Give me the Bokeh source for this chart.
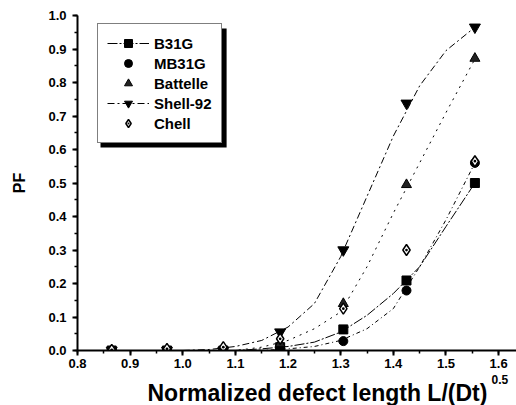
from bokeh.plotting import figure
from bokeh.models import (Legend, LegendItem, Title, BoxAnnotation, SingleIntervalTicker,
                          NumeralTickFormatter, Range1d)
from bokeh.embed import file_html
from bokeh.resources import INLINE

# ---- data ----
x_pts = [0.865, 0.97, 1.077, 1.185, 1.305, 1.425, 1.555]
b31g = [0.0, 0.0, 0.0, 0.01, 0.063, 0.209, 0.50]
mb31g = [0.0, 0.0, 0.0, 0.005, 0.028, 0.179, 0.56]
battelle = [0.0, 0.0, 0.0, 0.02, 0.14, 0.495, 0.872]
shell92 = [0.0, 0.0, 0.0, 0.055, 0.30, 0.738, 0.965]
chell = [0.002, 0.005, 0.01, 0.035, 0.125, 0.30, 0.565]

# fitted curves
x_fit = [1.0, 1.05, 1.1, 1.15, 1.2, 1.25, 1.3, 1.35, 1.4, 1.45, 1.5, 1.555]
shell_fit = [0.0, 0.003, 0.012, 0.03, 0.07, 0.14, 0.28, 0.46, 0.64, 0.79, 0.895, 0.965]
battelle_fit = [0.0, 0.0, 0.0, 0.01, 0.03, 0.065, 0.115, 0.25, 0.41, 0.56, 0.71, 0.87]
b31g_fit = [0.0, 0.0, 0.0, 0.005, 0.012, 0.025, 0.055, 0.105, 0.17, 0.25, 0.37, 0.50]
mb31g_fit = [0.0, 0.0, 0.0, 0.0, 0.005, 0.012, 0.03, 0.065, 0.125, 0.25, 0.39, 0.56]

x_ticks_interval = 0.1
y_ticks_interval = 0.1

FONT = "Liberation Sans"

p = figure(width=516, height=405, output_backend="svg", toolbar_location=None,
           x_range=Range1d(0.8, 1.634), y_range=Range1d(0.0, 1.0),
           min_border_left=77, min_border_right=0, min_border_top=15, min_border_bottom=55)
p.outline_line_color = None
p.xgrid.visible = False
p.ygrid.visible = False
p.background_fill_color = "white"

for ax, iv in ((p.xaxis[0], x_ticks_interval), (p.yaxis[0], y_ticks_interval)):
    ax.ticker = SingleIntervalTicker(interval=iv, num_minor_ticks=2)
    ax.formatter = NumeralTickFormatter(format="0.0")
    ax.axis_line_width = 2
    ax.major_tick_line_width = 2
    ax.minor_tick_line_width = 1.5
    ax.major_tick_out = 5
    ax.major_tick_in = 0
    ax.minor_tick_out = 3
    ax.minor_tick_in = 0
    ax.major_label_text_font = FONT
    ax.major_label_text_font_style = "bold"
    ax.major_label_text_font_size = "13px"
    ax.major_label_text_color = "black"
    ax.axis_line_color = "black"
    ax.major_tick_line_color = "black"
    ax.minor_tick_line_color = "black"

p.xaxis.major_label_standoff = 3
p.yaxis.major_label_standoff = 6
p.yaxis.axis_label = "PF"
p.yaxis.axis_label_text_font = FONT
p.yaxis.axis_label_text_font_style = "bold"
p.yaxis.axis_label_text_font_size = "16px"
p.yaxis.axis_label_text_color = "black"
p.yaxis.axis_label_standoff = 17

# curves
l_shell = p.line(x_fit, shell_fit, line_color="black", line_width=1, line_dash="7 3 2 3")
l_batt = p.line(x_fit, battelle_fit, line_color="black", line_width=1, line_dash="2 5")
l_b31g = p.line(x_fit, b31g_fit, line_color="black", line_width=1, line_dash="10 2 2 2")
l_mb31g = p.line(x_fit, mb31g_fit, line_color="black", line_width=1, line_dash="4 3 1 3")

# markers
s_b31g = p.scatter(x_pts, b31g, marker="square", size=9, fill_color="black", line_color="black")
s_mb31g = p.scatter(x_pts, mb31g, marker="circle", size=9, fill_color="black", line_color="black")
s_batt = p.scatter(x_pts, battelle, marker="triangle", size=10, fill_color="#222222", line_color="black")
s_shell = p.scatter(x_pts, shell92, marker="inverted_triangle", size=11, fill_color="black", line_color="black")
s_chell = p.scatter(x_pts, chell, marker="diamond_dot", size=11, fill_color="white", line_color="black", line_width=1.5)

# legend shadow
shadow = BoxAnnotation(left=0.8 + 23 / 526, right=0.8 + 149 / 526,
                       top=(350 - 28) / 335, bottom=(350 - 147) / 335,
                       fill_color="black", fill_alpha=1.0, line_color=None)
p.add_layout(shadow)

legend = Legend(items=[
    LegendItem(label="B31G", renderers=[l_b31g, s_b31g]),
    LegendItem(label="MB31G", renderers=[s_mb31g]),
    LegendItem(label="Battelle", renderers=[s_batt]),
    LegendItem(label="Shell-92", renderers=[l_shell, s_shell]),
    LegendItem(label="Chell", renderers=[s_chell]),
], location=(20, 207))
legend.border_line_color = "black"
legend.border_line_width = 1
legend.background_fill_alpha = 1.0
legend.padding = 9
legend.spacing = 0
legend.margin = 0
legend.label_height = 20
legend.glyph_height = 20
legend.glyph_width = 42
legend.label_standoff = 5
legend.label_text_font = FONT
legend.label_text_font_style = "bold"
legend.label_text_font_size = "15px"
legend.label_text_color = "black"
p.add_layout(legend)

# x-axis title: superscript first (closer to the axis), then the main text
sup = Title(text="0.5", align="left", offset=414, standoff=4,
            text_font=FONT, text_font_style="bold", text_font_size="12px", text_color="black")
p.add_layout(sup, "below")
xt = Title(text="Normalized defect length L/(Dt)", align="left", offset=70, standoff=-16,
           text_font=FONT, text_font_style="bold", text_font_size="23px", text_color="black")
p.add_layout(xt, "below")

open("out.html", "w").write(file_html(p, INLINE))
